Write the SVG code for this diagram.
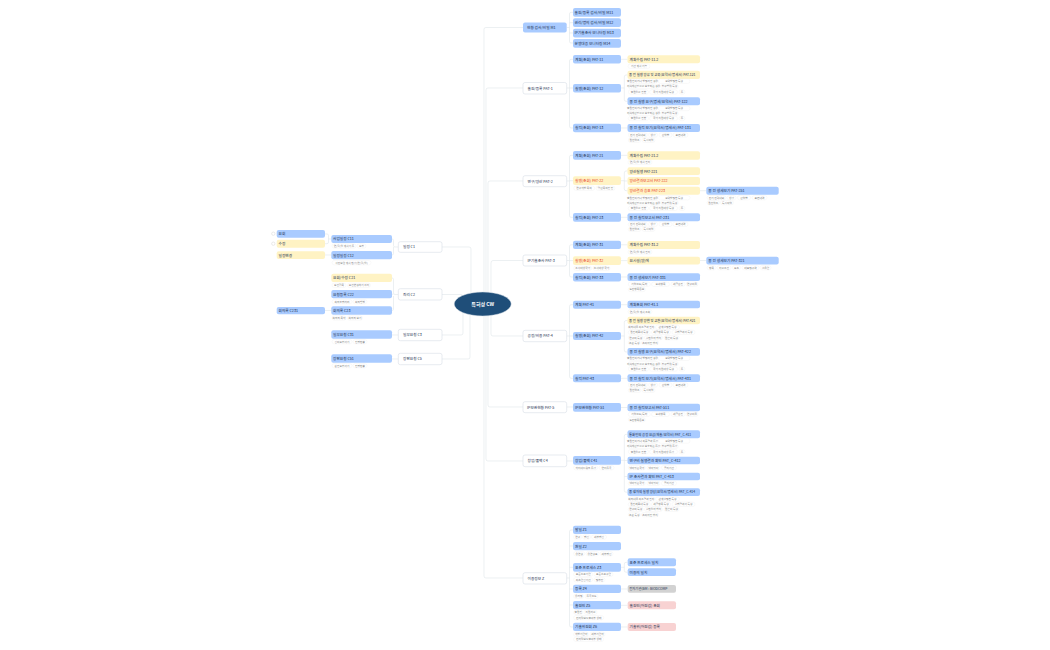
<svg xmlns="http://www.w3.org/2000/svg" width="1050" height="650" viewBox="0 0 1050 650">
<style>
text{font-family:"Noto Sans CJK KR","Noto Sans",sans-serif}
.b{fill:#a9cbff}.y{fill:#fff3c4}.p{fill:#f8d2d2}.g{fill:#d2d2d2}.w{fill:#fff;stroke:#d6dee6;stroke-width:.6}
.t{font-size:3.7px;fill:#1c3050}.r{font-size:3.7px;fill:#e8402a}.s{font-size:2.7px;fill:#808080;text-anchor:middle}
.l{font-size:3.35px}
.o{fill:#fff;stroke:#f0f0f0;stroke-width:.4}
.c{fill:none;stroke:#dfe5ea;stroke-width:.6}
.e{fill:#fff;stroke:#ccc;stroke-width:.4}
</style>
<rect width="1050" height="650" fill="#fff"/>
<g id="connectors">
<path class="c" d="M484 292V29Q484 27.500 486 27.500H523M486 292V90Q486 88 488 88H523M488 292V183Q488 181 490 181H523M491 292V263Q491 260.500 493 260.500H523M491 316V334Q491 336 493 336H523M488 316V405Q488 407 490 407H523M486 316V459Q486 461 488 461H523M484 316V576Q484 578 486 578H523"/>
<path class="c" d="M471 293V249Q471 247 469 247H442M463 297Q463 294.500 461 294.500H442M463 311V333Q463 335 461 335H442M470 315V357Q470 359 468 359H442"/>
<path class="c" d="M566.700 27.500H569.500M569.500 14Q569.500 12.300 571 12.300H573M569.500 14V41.500Q569.500 43 571 43H573M569.500 22.700H573M569.500 33H573"/>
<path class="c" d="M566.700 88H569.500M573 59.300H571Q569.500 59.300 569.500 61V126Q569.500 128 571 128H573M569.500 88H573"/>
<path class="c" d="M566.700 181H569.500M573 155.300H571Q569.500 155.300 569.500 157V215.500Q569.500 217.300 571 217.300H573M569.500 180.700H573"/>
<path class="c" d="M566.700 260.500H569.500M573 244.800H571Q569.500 244.800 569.500 246.500V275Q569.500 277 571 277H573M569.500 260.600H573"/>
<path class="c" d="M566.700 336H569.500M573 304.700H571Q569.500 304.700 569.500 306.500V376Q569.500 378.300 571 378.300H573M569.500 336H573"/>
<path class="c" d="M566.700 407H573M566.700 461H573"/>
<path class="c" d="M566.700 578H569.500M573 530H571Q569.500 530 569.500 531.500V625Q569.500 627 571 627H573M569.500 546H573M569.500 567.300H573M569.500 589H573M569.500 605H573"/>
<path class="c" d="M621 59.300H627.500M621 88H624.300M627.500 75H626Q624.300 75 624.300 77V99.500Q624.300 101.300 626 101.300H627.500M621 128H627.500M621 155.300H627.500M621 180.700H624.300M627.500 171H626Q624.300 171 624.300 173V188.800Q624.300 190.700 626 190.700H627.500M624.300 181H627.500M621 217.300H627.500M700 190.700H706.300M621 244.800H627.500M621 260.600H627.500M621 277H627.500M700 260.500H706.300M621 304.700H627.500M621 336H624.300M627.500 320.500H626Q624.300 320.500 624.300 322.500V350Q624.300 352 626 352H627.500M621 378.300H627.500M621 407.500H627.500M621 460.300H624.300M627.500 434.300H626Q624.300 434.300 624.300 436.300V490.500Q624.300 492.200 626 492.200H627.500M624.300 460.500H627.500M624.300 476.500H627.500M621 567.300H624.300M627.500 562.300H626Q624.300 562.300 624.300 564V570.500Q624.300 572.200 626 572.200H627.500M621 589H627.500M621 605.300H627.500M621 627H627.500"/>
<path class="c" d="M398.300 247H395Q393.500 247 393.500 245.500V240.500Q393.500 239 392 239M393.500 247V253.500Q393.500 255 392 255M398.300 294.500H395M395 294.500Q393.500 294.500 393.500 293V279.500Q393.500 278 392 278M393.500 294.200H392M393.500 296V309Q393.500 310.500 392 310.500M398.300 335H392M398.300 359H392"/>
<path class="c" d="M331.300 239H328.500M328.500 235.500Q328.500 234 327 234H325M328.500 235.500V242Q328.500 243.700 327 243.700H325M331.300 255H325M331.300 310.500H325"/>
</g>
<g id="center"><ellipse cx="482.700" cy="304" rx="28.500" ry="12" fill="#1f4e79" stroke="#d6dee6" stroke-width=".5"/><text x="482.700" y="305.800" font-size="5" font-weight="700" fill="#fff" text-anchor="middle">특허성 CW</text></g>
<g id="m1"><rect class="b" x="523" y="22.500" width="43.700" height="10" rx="2"/><text class="t" x="527" y="28.800">현황 검사/비밀 M1</text></g>
<g id="m11"><rect class="b" x="573" y="8" width="48" height="8.700" rx="2"/><text class="t" x="574.500" y="13.600">출원/등록 검사/비밀 M11</text></g>
<g id="m12"><rect class="b" x="573" y="18.300" width="48" height="8.700" rx="2"/><text class="t" x="574.500" y="23.900">권리/명의 검사/비밀 M12</text></g>
<g id="m13"><rect class="b" x="573" y="28.700" width="48" height="8.700" rx="2"/><text class="t" x="574.500" y="34.300">IP기술조사 모니터링 M13</text></g>
<g id="m14"><rect class="b" x="573" y="39" width="48" height="8.700" rx="2"/><text class="t" x="574.500" y="44.600">분쟁대응 모니터링 M14</text></g>

<g id="pat1"><rect class="w" x="523" y="82.500" width="43.700" height="11.500" rx="2"/><text class="t" x="527.500" y="89.500">출원/등록 PAT-1</text></g>
<g id="pat11"><rect class="b" x="573" y="55" width="48" height="8.500" rx="2"/><text class="t" x="575" y="60.600">계획(조회) PAT-11</text></g>
<g id="pat12"><rect class="b" x="573" y="84" width="48" height="8.500" rx="2"/><text class="t" x="575" y="89.600">실행(조회) PAT-12</text></g>
<g id="pat13"><rect class="b" x="573" y="123.700" width="48" height="8.500" rx="2"/><text class="t" x="575" y="129.300">실적(조회) PAT-13</text></g>
<g id="pat112"><rect class="y" x="627.500" y="55.300" width="72.500" height="8" rx="2"/><text class="t" x="629.500" y="60.600">계획수립 PAT-11.2</text>
<rect class="o" x="628" y="64" width="22" height="4.400" rx="2.200"/><text class="s" x="639" y="67.100">기간 계획 기능</text></g>
<g id="pat121"><rect class="y" x="627.500" y="70.700" width="72.500" height="8.300" rx="2"/><text class="t l" x="629" y="76.100">중 전 실행 양류 및 교육(요약서/명세서) PAT-121</text>
<rect class="o" x="628.300" y="79" width="28.400" height="4.400" rx="2.200"/><text class="s" x="642.500" y="82.100">출원인이거나 발명자인 경우</text><rect class="o" x="658.300" y="79" width="31.700" height="4.400" rx="2.200"/><text class="s" x="674.100" y="82.100">요약발명한 특성</text>
<rect class="o" x="628.300" y="84.300" width="30.700" height="4.400" rx="2.200"/><text class="s" x="643.600" y="87.400">지식재산권으로 보호되는 경우</text><rect class="o" x="660.700" y="84.300" width="17.600" height="4.400" rx="2.200"/><text class="s" x="669.500" y="87.400">청구범위 특성</text>
<rect class="o" x="628.300" y="89.800" width="20.200" height="4.400" rx="2.200"/><text class="s" x="638.400" y="92.900">출원일로 인한</text><rect class="o" x="649.500" y="89.800" width="28" height="4.400" rx="2.200"/><text class="s" x="663.500" y="92.900">국가 지원대상 특성</text><rect class="o" x="679" y="89.800" width="6" height="4.400" rx="2.200"/><text class="s" x="682" y="92.900">등</text></g>
<g id="pat122"><rect class="b" x="627.500" y="97.300" width="72.500" height="8" rx="2"/><text class="t" x="629.500" y="102.600">중 전 실행 요구(명세/요약서) PAT-122</text>
<rect class="o" x="628.300" y="106.300" width="28.400" height="4.400" rx="2.200"/><text class="s" x="642.500" y="109.400">출원인이거나 발명자인 경우</text><rect class="o" x="658.300" y="106.300" width="31.700" height="4.400" rx="2.200"/><text class="s" x="674.100" y="109.400">요약발명한 특성</text>
<rect class="o" x="628.300" y="111.300" width="30.700" height="4.400" rx="2.200"/><text class="s" x="643.600" y="114.400">지식재산권으로 보호되는 경우</text><rect class="o" x="660.700" y="111.300" width="17.600" height="4.400" rx="2.200"/><text class="s" x="669.500" y="114.400">청구범위 특성</text>
<rect class="o" x="628.300" y="116.300" width="20.200" height="4.400" rx="2.200"/><text class="s" x="638.400" y="119.400">출원일로 인한</text><rect class="o" x="649.500" y="116.300" width="28" height="4.400" rx="2.200"/><text class="s" x="663.500" y="119.400">국가 지원대상 특성</text><rect class="o" x="679" y="116.300" width="6" height="4.400" rx="2.200"/><text class="s" x="682" y="119.400">등</text></g>
<g id="pat131"><rect class="b" x="627.500" y="124" width="72.500" height="8" rx="2"/><text class="t" x="629.500" y="129.300">중 전 실적 보기(요약서/명세서) PAT-131</text>
<rect class="o" x="628.300" y="132.800" width="19" height="4.400" rx="2.200"/><text class="s" x="637.800" y="135.900">전기 전력내외</text><rect class="o" x="648.500" y="132.800" width="9" height="4.400" rx="2.200"/><text class="s" x="653" y="135.900">상장</text><rect class="o" x="659" y="132.800" width="13" height="4.400" rx="2.200"/><text class="s" x="665.500" y="135.900">산업별</text><rect class="o" x="673" y="132.800" width="15" height="4.400" rx="2.200"/><text class="s" x="680.500" y="135.900">표면내역</text>
<rect class="o" x="628.300" y="138" width="12.500" height="4.400" rx="2.200"/><text class="s" x="634.500" y="141.100">원천업조</text><rect class="o" x="642" y="138" width="13" height="4.400" rx="2.200"/><text class="s" x="648.500" y="141.100">특시작업</text></g>

<g id="pat2"><rect class="w" x="523" y="175.700" width="43.700" height="11" rx="2"/><text class="t" x="527.500" y="182.500">연구/양산 PAT-2</text></g>
<g id="pat21"><rect class="b" x="573" y="151" width="48" height="8.700" rx="2"/><text class="t" x="575" y="156.700">계획(조회) PAT-21</text></g>
<g id="pat22"><rect class="y" x="573" y="176.300" width="48" height="8.700" rx="2"/><text class="r" x="575" y="182">실행(조회) PAT-22</text>
<rect class="o" x="573.700" y="186" width="21" height="4.400" rx="2.200"/><text class="s" x="584" y="189.100">연구개발 목적</text><rect class="o" x="596" y="186" width="19" height="4.400" rx="2.200"/><text class="s" x="605.500" y="189.100">양산목적인 인</text></g>
<g id="pat23"><rect class="b" x="573" y="213" width="48" height="8.700" rx="2"/><text class="t" x="575" y="218.700">실적(조회) PAT-23</text></g>
<g id="pat212"><rect class="y" x="627.500" y="151.300" width="72.500" height="8.400" rx="2"/><text class="t" x="629.500" y="156.800">계획수립 PAT-21.2</text>
<rect class="o" x="628" y="160.100" width="24" height="4.400" rx="2.200"/><text class="s" x="640" y="163.200">연/월/일 계획 인지</text></g>
<g id="pat221"><rect class="y" x="627.500" y="167.300" width="72.500" height="7.800" rx="2"/><text class="t" x="629.500" y="172.500">양산실행 PAT-221</text></g>
<g id="pat222"><rect class="y" x="627.500" y="177" width="72.500" height="8" rx="2"/><text class="r" x="629.500" y="182.300">양산결과보고서 PAT-222</text></g>
<g id="pat223"><rect class="y" x="627.500" y="186.700" width="72.500" height="8" rx="2"/><text class="r" x="629.500" y="192">양산결과 승표 PAT-223</text>
<rect class="o" x="628.300" y="195.500" width="28.400" height="4.400" rx="2.200"/><text class="s" x="642.500" y="198.600">출원인이거나 발명자인 경우</text><rect class="o" x="658.300" y="195.500" width="31.700" height="4.400" rx="2.200"/><text class="s" x="674.100" y="198.600">요약발명한 특성</text>
<rect class="o" x="628.300" y="200.500" width="30.700" height="4.400" rx="2.200"/><text class="s" x="643.600" y="203.600">지식재산권으로 보호되는 경우</text><rect class="o" x="660.700" y="200.500" width="17.600" height="4.400" rx="2.200"/><text class="s" x="669.500" y="203.600">청구범위 특성</text>
<rect class="o" x="628.300" y="206.100" width="20.200" height="4.400" rx="2.200"/><text class="s" x="638.400" y="209.200">출원일로 인한</text><rect class="o" x="649.500" y="206.100" width="28" height="4.400" rx="2.200"/><text class="s" x="663.500" y="209.200">국가 지원대상 특성</text><rect class="o" x="679" y="206.100" width="6" height="4.400" rx="2.200"/><text class="s" x="682" y="209.200">등</text></g>
<g id="pat231"><rect class="b" x="627.500" y="213.300" width="72.500" height="8" rx="2"/><text class="t" x="629.500" y="218.600">중 전 실적보고서 PAT-231</text>
<rect class="o" x="628.300" y="222.100" width="19" height="4.400" rx="2.200"/><text class="s" x="637.800" y="225.200">전기 전력내외</text><rect class="o" x="648.500" y="222.100" width="9" height="4.400" rx="2.200"/><text class="s" x="653" y="225.200">상장</text><rect class="o" x="659" y="222.100" width="13" height="4.400" rx="2.200"/><text class="s" x="665.500" y="225.200">산업별</text><rect class="o" x="673" y="222.100" width="15" height="4.400" rx="2.200"/><text class="s" x="680.500" y="225.200">표면내역</text>
<rect class="o" x="628.300" y="227.100" width="12.500" height="4.400" rx="2.200"/><text class="s" x="634.500" y="230.200">원천업조</text><rect class="o" x="642" y="227.100" width="13" height="4.400" rx="2.200"/><text class="s" x="648.500" y="230.200">특시작업</text></g>
<g id="pat251"><rect class="b" x="706.300" y="186.700" width="72.400" height="8" rx="2"/><text class="t" x="708.300" y="192">중 전 생세보기 PAT-251</text>
<rect class="o" x="707" y="195.500" width="19" height="4.400" rx="2.200"/><text class="s" x="716.500" y="198.600">전기 전력내외</text><rect class="o" x="727" y="195.500" width="9" height="4.400" rx="2.200"/><text class="s" x="731.500" y="198.600">상장</text><rect class="o" x="737.500" y="195.500" width="13" height="4.400" rx="2.200"/><text class="s" x="744" y="198.600">산업별</text><rect class="o" x="752" y="195.500" width="15" height="4.400" rx="2.200"/><text class="s" x="759.500" y="198.600">표면내역</text>
<rect class="o" x="707" y="200.500" width="12.500" height="4.400" rx="2.200"/><text class="s" x="713.200" y="203.600">원천업조</text><rect class="o" x="720.500" y="200.500" width="13" height="4.400" rx="2.200"/><text class="s" x="727" y="203.600">특시작업</text></g>

<g id="pat3"><rect class="w" x="523" y="255" width="43.700" height="11" rx="2"/><text class="t" x="527.500" y="261.800">IP기술조사 PAT-3</text></g>
<g id="pat31"><rect class="b" x="573" y="240.700" width="48" height="8.400" rx="2"/><text class="t" x="575" y="246.300">계획(조회) PAT-31</text></g>
<g id="pat32"><rect class="y" x="573" y="256.300" width="48" height="8.700" rx="2"/><text class="r" x="575" y="262">실행(조회) PAT-32</text>
<rect class="o" x="573.700" y="266" width="18" height="4.400" rx="2.200"/><text class="s" x="582.700" y="269.100">조사대상국가</text><rect class="o" x="593" y="266" width="17" height="4.400" rx="2.200"/><text class="s" x="601.500" y="269.100">조사대상 국가</text></g>
<g id="pat33"><rect class="b" x="573" y="273" width="48" height="8.400" rx="2"/><text class="t" x="575" y="278.600">실적(조회) PAT-33</text></g>
<g id="pat312"><rect class="y" x="627.500" y="241" width="72.500" height="8" rx="2"/><text class="t" x="629.500" y="246.300">계획수립 PAT-31.2</text>
<rect class="o" x="628" y="249.800" width="24" height="4.400" rx="2.200"/><text class="s" x="640" y="252.900">연/월/일 계획 인지</text></g>
<g id="pat32b"><rect class="y" x="627.500" y="256.700" width="72.500" height="7.700" rx="2"/><text class="t" x="629.500" y="261.900">요시설(양)에</text></g>
<g id="pat331"><rect class="b" x="627.500" y="273.300" width="72.500" height="7.800" rx="2"/><text class="t" x="629.500" y="278.500">중 전 생세보기 PAT-331</text>
<rect class="o" x="628.300" y="282" width="22" height="4.400" rx="2.200"/><text class="s" x="639.300" y="285.100">기업코드/특허</text><rect class="o" x="651.500" y="282" width="18" height="4.400" rx="2.200"/><text class="s" x="660.500" y="285.100">요세항목</text><rect class="o" x="671" y="282" width="14" height="4.400" rx="2.200"/><text class="s" x="678" y="285.100">세금혼인</text><rect class="o" x="686" y="282" width="12" height="4.400" rx="2.200"/><text class="s" x="692" y="285.100">연구비용</text>
<rect class="o" x="628.300" y="287.300" width="17" height="4.400" rx="2.200"/><text class="s" x="636.800" y="290.400">도전항목동보</text></g>
<g id="pat321"><rect class="b" x="706.300" y="256.700" width="72.400" height="7.700" rx="2"/><text class="t" x="708.300" y="261.900">중 전 생세보기 PAT-321</text>
<rect class="o" x="707" y="265.500" width="9" height="4.400" rx="2.200"/><text class="s" x="711.500" y="268.600">항목</text><rect class="o" x="717" y="265.500" width="14" height="4.400" rx="2.200"/><text class="s" x="724" y="268.600">자료조건</text><rect class="o" x="732.500" y="265.500" width="8" height="4.400" rx="2.200"/><text class="s" x="736.500" y="268.600">요소</text><rect class="o" x="742" y="265.500" width="17" height="4.400" rx="2.200"/><text class="s" x="750.500" y="268.600">대표명구역</text><rect class="o" x="760" y="265.500" width="11" height="4.400" rx="2.200"/><text class="s" x="765.500" y="268.600">활용안</text></g>

<g id="pat4"><rect class="w" x="523" y="330.300" width="43.700" height="11.400" rx="2"/><text class="t" x="527.500" y="337.300">공정/비용 PAT-4</text></g>
<g id="pat41"><rect class="b" x="573" y="300.700" width="48" height="8" rx="2"/><text class="t" x="575" y="306">계획 PAT-41</text></g>
<g id="pat42"><rect class="b" x="573" y="332" width="48" height="8" rx="2"/><text class="t" x="575" y="337.300">실행(조회) PAT-42</text></g>
<g id="pat43"><rect class="b" x="573" y="374.300" width="48" height="8" rx="2"/><text class="t" x="575" y="379.600">실적 PAT-43</text></g>
<g id="pat411"><rect class="b" x="627.500" y="300.700" width="72.500" height="7.600" rx="2"/><text class="t" x="629.500" y="305.800">계획조회 PAT-41.1</text>
<rect class="o" x="628" y="309.500" width="24" height="4.400" rx="2.200"/><text class="s" x="640" y="312.600">연/월/일 계획 조회</text></g>
<g id="pat421"><rect class="y" x="627.500" y="316.700" width="72.500" height="7.600" rx="2"/><text class="t l" x="629" y="321.700">중 전 실행 양변 및 교환(요약서/명세서) PAT-421</text>
<rect class="o" x="628.300" y="325.100" width="26" height="4.400" rx="2.200"/><text class="s" x="641.300" y="328.200">회의내용 최초결과 인지</text><rect class="o" x="655.500" y="325.100" width="24" height="4.400" rx="2.200"/><text class="s" x="667.500" y="328.200">관계설명한 특성</text>
<rect class="o" x="628.300" y="330.100" width="22" height="4.400" rx="2.200"/><text class="s" x="639.300" y="333.200">원인제품내 특성</text><rect class="o" x="651.500" y="330.100" width="19" height="4.400" rx="2.200"/><text class="s" x="661" y="333.200">세금항목 특성</text><rect class="o" x="672" y="330.100" width="23" height="4.400" rx="2.200"/><text class="s" x="683.500" y="333.200">실행결과서 특성</text>
<rect class="o" x="628.300" y="335.500" width="15" height="4.400" rx="2.200"/><text class="s" x="635.800" y="338.600">연구비 특성</text><rect class="o" x="644.500" y="335.500" width="18" height="4.400" rx="2.200"/><text class="s" x="653.500" y="338.600">실현일자 합치</text><rect class="o" x="664" y="335.500" width="15" height="4.400" rx="2.200"/><text class="s" x="671.500" y="338.600">원본비 특성</text>
<rect class="o" x="628.300" y="340.500" width="12" height="4.400" rx="2.200"/><text class="s" x="634.300" y="343.600">소분 특성</text><rect class="o" x="641.500" y="340.500" width="17" height="4.400" rx="2.200"/><text class="s" x="650" y="343.600">소비자인 합치</text></g>
<g id="pat422"><rect class="b" x="627.500" y="348" width="72.500" height="7.700" rx="2"/><text class="t" x="629.500" y="353.200">중 전 실행 요구(요약서/명세서) PAT-422</text>
<rect class="o" x="628.300" y="356.100" width="28.400" height="4.400" rx="2.200"/><text class="s" x="642.500" y="359.200">출원인이거나 발명자인 경우</text><rect class="o" x="658.300" y="356.100" width="31.700" height="4.400" rx="2.200"/><text class="s" x="674.100" y="359.200">요약발명한 특성</text>
<rect class="o" x="628.300" y="361.500" width="30.700" height="4.400" rx="2.200"/><text class="s" x="643.600" y="364.600">지식재산권으로 보호되는 경우</text><rect class="o" x="660.700" y="361.500" width="17.600" height="4.400" rx="2.200"/><text class="s" x="669.500" y="364.600">청구범위 특성</text>
<rect class="o" x="628.300" y="366.800" width="20.200" height="4.400" rx="2.200"/><text class="s" x="638.400" y="369.900">출원일로 인한</text><rect class="o" x="649.500" y="366.800" width="28" height="4.400" rx="2.200"/><text class="s" x="663.500" y="369.900">국가 지원대상 특성</text><rect class="o" x="679" y="366.800" width="6" height="4.400" rx="2.200"/><text class="s" x="682" y="369.900">등</text></g>
<g id="pat431"><rect class="b" x="627.500" y="374.300" width="72.500" height="7.700" rx="2"/><text class="t" x="629.500" y="379.500">중 전 실적 보기(요약서/명세서) PAT-431</text>
<rect class="o" x="628.300" y="382.800" width="19" height="4.400" rx="2.200"/><text class="s" x="637.800" y="385.900">전기 전력내외</text><rect class="o" x="648.500" y="382.800" width="9" height="4.400" rx="2.200"/><text class="s" x="653" y="385.900">상장</text><rect class="o" x="659" y="382.800" width="13" height="4.400" rx="2.200"/><text class="s" x="665.500" y="385.900">산업별</text><rect class="o" x="673" y="382.800" width="15" height="4.400" rx="2.200"/><text class="s" x="680.500" y="385.900">표면내역</text>
<rect class="o" x="628.300" y="388.100" width="12.500" height="4.400" rx="2.200"/><text class="s" x="634.500" y="391.200">원천업조</text><rect class="o" x="642" y="388.100" width="13" height="4.400" rx="2.200"/><text class="s" x="648.500" y="391.200">특시작업</text></g>

<g id="pat5"><rect class="w" x="523" y="401.700" width="43.700" height="11" rx="2"/><text class="t" x="527" y="408.500">IP보관현황 PAT-5</text></g>
<g id="pat51"><rect class="b" x="573" y="403" width="48" height="8.700" rx="2"/><text class="t" x="575" y="408.700">IP보관현황 PAT-51</text></g>
<g id="pat511"><rect class="b" x="627.500" y="403.700" width="72.500" height="7.600" rx="2"/><text class="t" x="629.500" y="408.800">중 전 실적보고서 PAT-511</text>
<rect class="o" x="628.300" y="412.100" width="22" height="4.400" rx="2.200"/><text class="s" x="639.300" y="415.200">기업코드/특허</text><rect class="o" x="651.500" y="412.100" width="18" height="4.400" rx="2.200"/><text class="s" x="660.500" y="415.200">요세항목</text><rect class="o" x="671" y="412.100" width="14" height="4.400" rx="2.200"/><text class="s" x="678" y="415.200">세금혼인</text><rect class="o" x="686" y="412.100" width="12" height="4.400" rx="2.200"/><text class="s" x="692" y="415.200">연구비용</text>
<rect class="o" x="628.300" y="417.500" width="17" height="4.400" rx="2.200"/><text class="s" x="636.800" y="420.600">도전항목동보</text></g>

<g id="c4"><rect class="w" x="523" y="455" width="43.700" height="11.700" rx="2"/><text class="t" x="527.500" y="462.200">창업/폴백 C4</text></g>
<g id="c41"><rect class="b" x="573" y="456" width="48" height="8.700" rx="2"/><text class="t" x="575" y="461.700">창업/폴백 C41</text>
<rect class="o" x="573.700" y="465.500" width="24" height="4.400" rx="2.200"/><text class="s" x="585.700" y="468.600">차지네트워크 등장</text><rect class="o" x="599" y="465.500" width="15" height="4.400" rx="2.200"/><text class="s" x="606.500" y="468.600">연지등록</text></g>
<g id="c411"><rect class="b" x="627.500" y="430.300" width="72.500" height="8" rx="2"/><text class="t l" x="629" y="435.500">통화인의 공정 요금(제출/요약서) PAT_C-411</text>
<rect class="o" x="628.300" y="438.800" width="28.400" height="4.400" rx="2.200"/><text class="s" x="642.500" y="441.900">출원인이거나 최종결과 등장</text><rect class="o" x="658.300" y="438.800" width="31.700" height="4.400" rx="2.200"/><text class="s" x="674.100" y="441.900">요약발명한 특성</text>
<rect class="o" x="628.300" y="444.100" width="30.700" height="4.400" rx="2.200"/><text class="s" x="643.600" y="447.200">지식재산권으로 보호되는 등장</text><rect class="o" x="660.700" y="444.100" width="17.600" height="4.400" rx="2.200"/><text class="s" x="669.500" y="447.200">청구범위 등장</text>
<rect class="o" x="628.300" y="449.500" width="20.200" height="4.400" rx="2.200"/><text class="s" x="638.400" y="452.600">출원일로 인한</text><rect class="o" x="649.500" y="449.500" width="28" height="4.400" rx="2.200"/><text class="s" x="663.500" y="452.600">국가 지원대상 등장</text><rect class="o" x="679" y="449.500" width="6" height="4.400" rx="2.200"/><text class="s" x="682" y="452.600">등</text></g>
<g id="c412"><rect class="b" x="627.500" y="456.700" width="72.500" height="7.600" rx="2"/><text class="t" x="629.500" y="461.800">연구비 실행결과 확인 PAT_C-412</text>
<rect class="o" x="628.300" y="465.500" width="17" height="4.400" rx="2.200"/><text class="s" x="636.800" y="468.600">남아있는국가</text><rect class="o" x="647" y="465.500" width="13" height="4.400" rx="2.200"/><text class="s" x="653.500" y="468.600">남아있다</text><rect class="o" x="661.500" y="465.500" width="15" height="4.400" rx="2.200"/><text class="s" x="669" y="468.600">공지기간</text></g>
<g id="c413"><rect class="b" x="627.500" y="472.700" width="72.500" height="7.600" rx="2"/><text class="t" x="629.500" y="477.800">IP 조사결과 확인 PAT_C-413</text>
<rect class="o" x="628.300" y="481.100" width="17" height="4.400" rx="2.200"/><text class="s" x="636.800" y="484.200">남아있는국가</text><rect class="o" x="647" y="481.100" width="13" height="4.400" rx="2.200"/><text class="s" x="653.500" y="484.200">남아있다</text><rect class="o" x="661.500" y="481.100" width="15" height="4.400" rx="2.200"/><text class="s" x="669" y="484.200">공지기간</text></g>
<g id="c414"><rect class="b" x="627.500" y="488.300" width="72.500" height="7.700" rx="2"/><text class="t l" x="629" y="493.400">중 생자의 실행 양상(요약서/명세서) PAT_C-414</text>
<rect class="o" x="628.300" y="496.800" width="26" height="4.400" rx="2.200"/><text class="s" x="641.300" y="499.900">회의내용 최초결과 인지</text><rect class="o" x="655.500" y="496.800" width="24" height="4.400" rx="2.200"/><text class="s" x="667.500" y="499.900">관계설명한 특성</text>
<rect class="o" x="628.300" y="502.100" width="22" height="4.400" rx="2.200"/><text class="s" x="639.300" y="505.200">원인제품내 특성</text><rect class="o" x="651.500" y="502.100" width="19" height="4.400" rx="2.200"/><text class="s" x="661" y="505.200">세금항목 특성</text><rect class="o" x="672" y="502.100" width="23" height="4.400" rx="2.200"/><text class="s" x="683.500" y="505.200">실행결과서 특성</text>
<rect class="o" x="628.300" y="507.100" width="15" height="4.400" rx="2.200"/><text class="s" x="635.800" y="510.200">연구비 특성</text><rect class="o" x="644.500" y="507.100" width="18" height="4.400" rx="2.200"/><text class="s" x="653.500" y="510.200">실현일자 합치</text><rect class="o" x="664" y="507.100" width="15" height="4.400" rx="2.200"/><text class="s" x="671.500" y="510.200">원본비 특성</text>
<rect class="o" x="628.300" y="512.500" width="12" height="4.400" rx="2.200"/><text class="s" x="634.300" y="515.600">소분 특성</text><rect class="o" x="641.500" y="512.500" width="17" height="4.400" rx="2.200"/><text class="s" x="650" y="515.600">소비자인 합치</text></g>

<g id="z"><rect class="w" x="523" y="572.700" width="43.700" height="11.300" rx="2"/><text class="t" x="527.500" y="579.700">이용정보 Z</text></g>
<g id="z1"><rect class="b" x="573" y="525.700" width="48" height="8.300" rx="2"/><text class="t" x="575" y="531.200">발일 Z1</text>
<rect class="o" x="573.700" y="534.900" width="8" height="4.400" rx="2.200"/><text class="s" x="577.700" y="538">연구</text><rect class="o" x="582.500" y="534.900" width="8" height="4.400" rx="2.200"/><text class="s" x="586.500" y="538">행정</text><rect class="o" x="591.500" y="534.900" width="15" height="4.400" rx="2.200"/><text class="s" x="599" y="538">세부행정</text></g>
<g id="z2"><rect class="b" x="573" y="542" width="48" height="8.300" rx="2"/><text class="t" x="575" y="547.500">환일 Z2</text>
<rect class="o" x="573.700" y="551.500" width="11" height="4.400" rx="2.200"/><text class="s" x="579.200" y="554.600">유연성</text><rect class="o" x="586" y="551.500" width="13" height="4.400" rx="2.200"/><text class="s" x="592.500" y="554.600">유연성표</text><rect class="o" x="600" y="551.500" width="13" height="4.400" rx="2.200"/><text class="s" x="606.500" y="554.600">세부행정</text></g>
<g id="z3"><rect class="b" x="573" y="563" width="48" height="8.700" rx="2"/><text class="t" x="575" y="568.700">표준 프로세스 Z3</text>
<rect class="o" x="573.700" y="572.100" width="19" height="4.400" rx="2.200"/><text class="s" x="583.200" y="575.200">표준스프기안</text><rect class="o" x="594" y="572.100" width="19" height="4.400" rx="2.200"/><text class="s" x="603.500" y="575.200">표준스프구안</text>
<rect class="o" x="573.700" y="577.500" width="19" height="4.400" rx="2.200"/><text class="s" x="583.200" y="580.600">최소안정기간</text><rect class="o" x="594" y="577.500" width="11" height="4.400" rx="2.200"/><text class="s" x="599.500" y="580.600">명부칸</text></g>
<g id="z4"><rect class="b" x="573" y="584.700" width="48" height="8.300" rx="2"/><text class="t" x="575" y="590.200">등록 Z4</text>
<rect class="o" x="573.700" y="594.100" width="10" height="4.400" rx="2.200"/><text class="s" x="578.700" y="597.200">유저명</text><rect class="o" x="585" y="594.100" width="13" height="4.400" rx="2.200"/><text class="s" x="591.500" y="597.200">등록코드</text></g>
<g id="z5"><rect class="b" x="573" y="601" width="48" height="8.300" rx="2"/><text class="t" x="575" y="606.500">출원인 Z5</text>
<rect class="o" x="573.700" y="610.100" width="9" height="4.400" rx="2.200"/><text class="s" x="578.200" y="613.200">출원인</text><rect class="o" x="584" y="610.100" width="13" height="4.400" rx="2.200"/><text class="s" x="590.500" y="613.200">지원자료</text>
<rect class="o" x="573.700" y="615.500" width="30" height="4.400" rx="2.200"/><text class="s" x="588.700" y="618.600">전자담보노출여부 상태</text></g>
<g id="z6"><rect class="b" x="573" y="622.700" width="48" height="8.300" rx="2"/><text class="t" x="575" y="628.200">기술위원회 Z6</text>
<rect class="o" x="573.700" y="632.100" width="15" height="4.400" rx="2.200"/><text class="s" x="581.200" y="635.200">개발기안자</text><rect class="o" x="590" y="632.100" width="15" height="4.400" rx="2.200"/><text class="s" x="597.500" y="635.200">세부기안자</text>
<rect class="o" x="573.700" y="637.100" width="30" height="4.400" rx="2.200"/><text class="s" x="588.700" y="640.200">전자담보노출여부 상태</text></g>
<g id="z31"><rect class="b" x="627.700" y="558.300" width="48.300" height="8" rx="2"/><text class="t" x="629.500" y="563.600">표준 프로세스 일치</text></g>
<g id="z32"><rect class="b" x="627.700" y="568.300" width="48.300" height="7.700" rx="2"/><text class="t" x="629.500" y="573.500">미용의 일치</text></g>
<g id="z41"><rect class="g" x="627.700" y="585" width="48.300" height="7.700" rx="2"/><text class="t l" x="629.200" y="590.100">전자기관(BM : BIODCOMP</text></g>
<g id="z51"><rect class="p" x="627.700" y="601.300" width="48.300" height="8" rx="2"/><text class="t" x="629.500" y="606.600">출원인(어원감) 조회</text></g>
<g id="z61"><rect class="p" x="627.700" y="623" width="48.300" height="8" rx="2"/><text class="t" x="629.500" y="628.300">기술위(어원감) 등록</text></g>

<g id="c1"><rect class="w" x="398.300" y="241.700" width="43.700" height="10.600" rx="2"/><text class="t" x="403" y="248.300">일정 C1</text></g>
<g id="c2"><rect class="w" x="398.300" y="288.700" width="43.700" height="11.300" rx="2"/><text class="t" x="403" y="295.700">최리 C2</text></g>
<g id="c3"><rect class="w" x="398.300" y="329.300" width="43.700" height="11.400" rx="2"/><text class="t" x="403" y="336.300">일부요청 C3</text></g>
<g id="c5"><rect class="w" x="398.300" y="353.300" width="43.700" height="11.400" rx="2"/><text class="t" x="403" y="360.300">장판요청 C5</text></g>
<g id="c11"><rect class="b" x="331.300" y="235" width="60.700" height="8" rx="2"/><text class="t" x="333" y="240.300">사업일정 C11</text>
<rect class="o" x="332" y="243.800" width="24" height="4.400" rx="2.200"/><text class="s" x="344" y="246.900">연/월/일 계획기 등</text><rect class="o" x="357" y="243.800" width="9" height="4.400" rx="2.200"/><text class="s" x="361.500" y="246.900">요청</text></g>
<g id="c12"><rect class="b" x="331.300" y="251" width="60.700" height="8.300" rx="2"/><text class="t" x="333" y="256.500">일정일정 C12</text>
<rect class="o" x="332" y="260.500" width="39" height="4.400" rx="2.200"/><text class="s" x="351.500" y="263.600">사전보완 계획 현장(연/월/일)</text></g>
<g id="c21"><rect class="y" x="331.300" y="273.700" width="60.700" height="8.300" rx="2"/><text class="t" x="333" y="279.200">요회/수정 C21</text>
<rect class="o" x="332" y="283.100" width="14" height="4.400" rx="2.200"/><text class="s" x="339" y="286.200">요건점목</text><rect class="o" x="347.500" y="283.100" width="23" height="4.400" rx="2.200"/><text class="s" x="359" y="286.200">요건변경하기 취지</text></g>
<g id="c22"><rect class="b" x="331.300" y="290" width="60.700" height="8.300" rx="2"/><text class="t" x="333" y="295.500">요청등록 C22</text>
<rect class="o" x="332" y="299.500" width="20" height="4.400" rx="2.200"/><text class="s" x="342" y="302.600">회의효행처리</text><rect class="o" x="353" y="299.500" width="14" height="4.400" rx="2.200"/><text class="s" x="360" y="302.600">회의방법</text></g>
<g id="c23"><rect class="b" x="331.300" y="306.300" width="60.700" height="8.400" rx="2"/><text class="t" x="333" y="311.900">회의록 C23</text>
<rect class="o" x="332" y="315.800" width="14" height="4.400" rx="2.200"/><text class="s" x="339" y="318.900">회의의 목차</text><rect class="o" x="347.500" y="315.800" width="15" height="4.400" rx="2.200"/><text class="s" x="355" y="318.900">회의의 보기</text></g>
<g id="c31"><rect class="b" x="331.300" y="330.300" width="60.700" height="8.400" rx="2"/><text class="t" x="333" y="335.900">일부요청 C31</text>
<rect class="o" x="332" y="339.500" width="20" height="4.400" rx="2.200"/><text class="s" x="342" y="342.600">정비요청서기</text><rect class="o" x="353" y="339.500" width="14" height="4.400" rx="2.200"/><text class="s" x="360" y="342.600">진행현황</text></g>
<g id="c51"><rect class="b" x="331.300" y="354.300" width="60.700" height="8.400" rx="2"/><text class="t" x="333" y="359.900">장판요청 C51</text>
<rect class="o" x="332" y="363.500" width="20" height="4.400" rx="2.200"/><text class="s" x="342" y="366.600">분인요청서기</text><rect class="o" x="353" y="363.500" width="14" height="4.400" rx="2.200"/><text class="s" x="360" y="366.600">진행현황</text></g>
<g id="a1"><circle class="e" cx="273.300" cy="233.700" r="1.700"/><rect class="b" x="276.700" y="230" width="48.300" height="7.700" rx="2"/><text class="t" x="278.500" y="235.200">요회</text></g>
<g id="a2"><circle class="e" cx="273.300" cy="243.700" r="1.700"/><rect class="y" x="276.700" y="239.700" width="48.300" height="8" rx="2"/><text class="t" x="278.500" y="245">수정</text></g>
<g id="a3"><rect class="y" x="276.700" y="251.300" width="48.300" height="7.700" rx="2"/><text class="t" x="278.500" y="256.500">일정변경</text></g>
<g id="c231"><rect class="b" x="276.700" y="307" width="48.300" height="7.300" rx="2"/><text class="t" x="278.500" y="312">회의록 C231</text></g>
</svg>
